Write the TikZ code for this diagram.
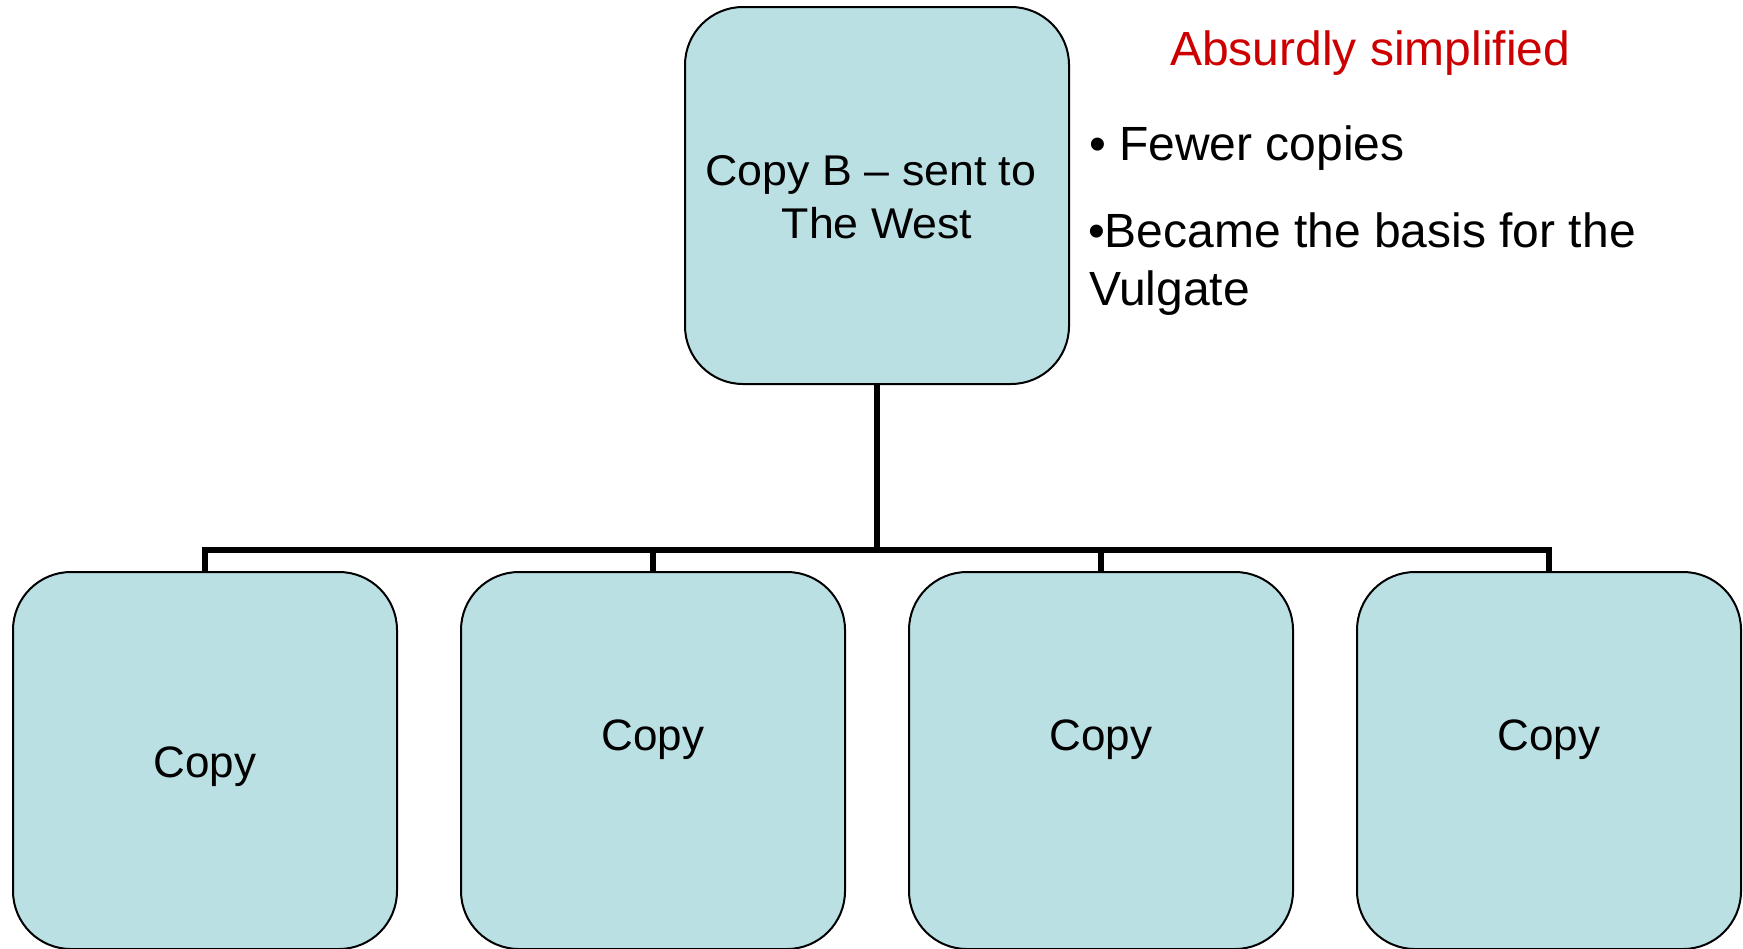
\documentclass[tikz,border=0pt]{standalone}
\usepackage{fontspec}
\setmainfont{Liberation Sans}
\definecolor{boxfill}{RGB}{186,224,227}
\definecolor{notered}{RGB}{204,0,0}
\tikzset{
  copybox/.style={draw=black, line width=1pt, fill=boxfill, rounded corners=29pt,
    minimum width=192pt, minimum height=188.5pt, inner sep=0pt},
  conn/.style={draw=black, line width=3pt},
  txt/.style={inner sep=0pt, outer sep=0pt},
  topfont/.style={font=\fontsize{21.5pt}{26pt}\selectfont},
  boxfont/.style={font=\fontsize{22pt}{26pt}\selectfont},
  notefont/.style={font=\fontsize{24pt}{29pt}\selectfont},
}
\begin{document}
\begin{tikzpicture}[x=0.5pt, y=-0.5pt]
\useasboundingbox[fill=white] (0,0) rectangle (1743,948);

% junction point of the tree connector
\coordinate (bar) at (877,550);

% boxes
\node[copybox] (top) at (877,195.5) {};
\node[copybox] (c1) at (205,760.5) {};
\node[copybox] (c2) at (653,760.5) {};
\node[copybox] (c3) at (1101,760.5) {};
\node[copybox] (c4) at (1549,760.5) {};

% tree connector
\draw[conn] (top.south) -- (bar);
\draw[conn] (c1.north) |- (bar) -| (c4.north);
\draw[conn] (c2.north) -- (c2.north |- bar);
\draw[conn] (c3.north) -- (c3.north |- bar);

% box texts
\node[txt, anchor=base, topfont] (toptxt1) at (871,185) {\scalebox{1.04}[1]{Copy B – sent to}};
\node[txt, anchor=base, topfont] (toptxt2) at (877,238) {\scalebox{1.04}[1]{The West}};
\node[txt, anchor=base, boxfont] (t1) at (205,777) {Copy};
\node[txt, anchor=base, boxfont] (t2) at (653,750) {Copy};
\node[txt, anchor=base, boxfont] (t3) at (1101,750) {Copy};
\node[txt, anchor=base, boxfont] (t4) at (1549,750) {Copy};

% side notes
\node[txt, anchor=base west, text=notered, notefont] (title) at (1170,65) {Absurdly simplified};
\node[txt, anchor=base west, notefont] (n1) at (1089,160) {• Fewer copies};
\node[txt, anchor=base west, notefont] (n2) at (1088,247) {•Became the basis for the};
\node[txt, anchor=base west, notefont] (n3) at (1089,305) {Vulgate};
\end{tikzpicture}
\end{document}
